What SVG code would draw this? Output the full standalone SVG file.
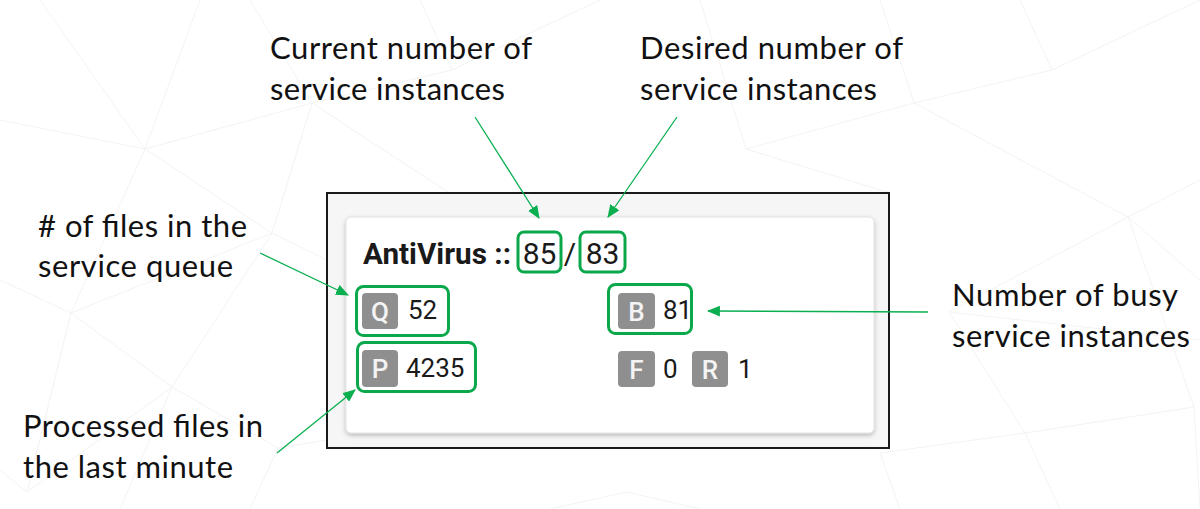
<svg xmlns="http://www.w3.org/2000/svg" width="1200" height="509" viewBox="0 0 1200 509">
<defs>
<style>
.bg{stroke:#f3f3f3;stroke-width:1;fill:none}
.lbl{font-family:Lato,"Open Sans",sans-serif;font-size:31px;fill:#111}
.card{font-family:Roboto,"Liberation Sans",sans-serif;fill:#1a1a1a}
.hl{fill:none;stroke:#0aa84a;stroke-width:3}
.badge{fill:#8f8f8f}
.bt{font-family:Roboto,"Liberation Sans",sans-serif;font-size:26px;font-weight:500;fill:#f4f4f4;text-anchor:middle}
.num{font-family:Roboto,"Liberation Sans",sans-serif;font-size:26px;fill:#1a1a1a}
.conn{stroke:#0aaf50;stroke-width:1.3;fill:none;marker-end:url(#ah)}
</style>
<marker id="ah" viewBox="0 0 12 10" refX="11" refY="5" markerWidth="13" markerHeight="11" markerUnits="userSpaceOnUse" orient="auto">
<path d="M0,0 L12,5 L0,10 z" fill="#0aaf50"/>
</marker>
<filter id="sh" x="-5%" y="-5%" width="110%" height="115%">
<feDropShadow dx="0" dy="2" stdDeviation="2" flood-color="#000" flood-opacity="0.25"/>
</filter>
</defs>
<rect width="1200" height="509" fill="#ffffff"/>
<g id="background">
<path class="bg" d="M145,149 L312,103 L452,70 L600,0 M145,149 L0,120 M145,149 L40,0 M145,149 L71,313 M145,149 L272,233 M145,149 L200,0 M312,103 L272,233 M312,103 L250,0 M312,103 L460,200 M452,70 L420,0 M71,313 L0,280 M71,313 L172,387 M71,313 L272,233 M71,313 L27,492 M172,387 L272,233 M172,387 L278,448 M172,387 L27,492 M172,387 L120,509 M272,233 L327,260 M278,448 L327,440 M278,448 L250,509 M746,149 L914,103 L1052,70 L1200,0 M914,103 L1128,217 M914,103 L880,0 M1052,70 L1020,0 M1128,217 L1200,180 M1128,217 L949,312 M1128,217 L1194,407 M1128,217 L1200,280 M949,312 L1025,433 M949,312 L1200,340 M1025,433 L1194,407 M1025,433 L880,453 M1025,433 L1060,509 M1194,407 L1200,509 M880,453 L900,509 M627,492 L550,509 M627,492 L700,509 M746,149 L700,0 M746,149 L890,193 M27,492 L0,470"/>
</g>
<g id="frame">
<rect x="327" y="193" width="562" height="255" fill="#f6f6f6" stroke="#1a1a1a" stroke-width="2"/>
<rect x="346" y="217" width="528" height="216" rx="5" fill="#ffffff" stroke="#e2e2e2" stroke-width="1" filter="url(#sh)"/>
</g>
<g id="title">
<text class="card" x="363" y="264" font-size="29" font-weight="bold" textLength="148" lengthAdjust="spacingAndGlyphs">AntiVirus ::</text>
<text class="card" x="539.5" y="264" font-size="30" text-anchor="middle">85</text>
<text class="card" x="570" y="264" font-size="30" text-anchor="middle">/</text>
<text class="card" x="602.5" y="264" font-size="30" text-anchor="middle">83</text>
</g>
<g id="node-q">
<rect class="badge" x="362" y="293" width="36" height="36" rx="4"/>
<text class="bt" x="380" y="321">Q</text>
<text class="num" x="408" y="319">52</text>
</g>
<g id="node-p">
<rect class="badge" x="362" y="350" width="36" height="37" rx="4"/>
<text class="bt" x="380" y="378">P</text>
<text class="num" x="406" y="377">4235</text>
</g>
<g id="node-b">
<rect class="badge" x="618" y="293" width="37" height="36" rx="4"/>
<text class="bt" x="636.5" y="321">B</text>
<text class="num" x="663" y="319">81</text>
</g>
<g id="node-f">
<rect class="badge" x="618" y="351" width="37" height="36" rx="4"/>
<text class="bt" x="636.5" y="379">F</text>
<text class="num" x="663" y="378">0</text>
</g>
<g id="node-r">
<rect class="badge" x="692" y="351" width="36" height="36" rx="4"/>
<text class="bt" x="710" y="379">R</text>
<text class="num" x="738" y="378">1</text>
</g>
<g id="highlights">
<rect class="hl" x="518" y="232" width="43" height="40" rx="6"/>
<rect class="hl" x="580" y="232" width="45" height="40" rx="6"/>
<rect class="hl" x="356.5" y="286.5" width="92" height="49" rx="7"/>
<rect class="hl" x="357.5" y="342.5" width="118" height="49" rx="7"/>
<rect class="hl" x="608.5" y="284.5" width="83" height="49" rx="7"/>
</g>
<g id="labels">
<g id="label-current"><text class="lbl" x="270" y="59" textLength="262" lengthAdjust="spacing">Current number of</text><text class="lbl" x="270" y="100" textLength="235" lengthAdjust="spacing">service instances</text></g>
<g id="label-desired"><text class="lbl" x="640" y="59" textLength="263" lengthAdjust="spacing">Desired number of</text><text class="lbl" x="640" y="100" textLength="237" lengthAdjust="spacing">service instances</text></g>
<g id="label-queue"><text class="lbl" x="38" y="237" textLength="209" lengthAdjust="spacing"># of files in the</text><text class="lbl" x="38" y="277" textLength="195" lengthAdjust="spacing">service queue</text></g>
<g id="label-processed"><text class="lbl" x="23" y="437" textLength="240" lengthAdjust="spacing">Processed files in</text><text class="lbl" x="23" y="478" textLength="210" lengthAdjust="spacing">the last minute</text></g>
<g id="label-busy"><text class="lbl" x="952" y="306" textLength="226" lengthAdjust="spacing">Number of busy</text><text class="lbl" x="952" y="347" textLength="238" lengthAdjust="spacing">service instances</text></g>
</g>
<g id="connectors">
<line class="conn" x1="475" y1="117" x2="539" y2="218"/>
<line class="conn" x1="677" y1="117" x2="608" y2="217"/>
<line class="conn" x1="260" y1="253" x2="348" y2="295"/>
<line class="conn" x1="277" y1="453" x2="355" y2="390"/>
<line class="conn" x1="928" y1="312" x2="708" y2="311"/>
</g>
</svg>
